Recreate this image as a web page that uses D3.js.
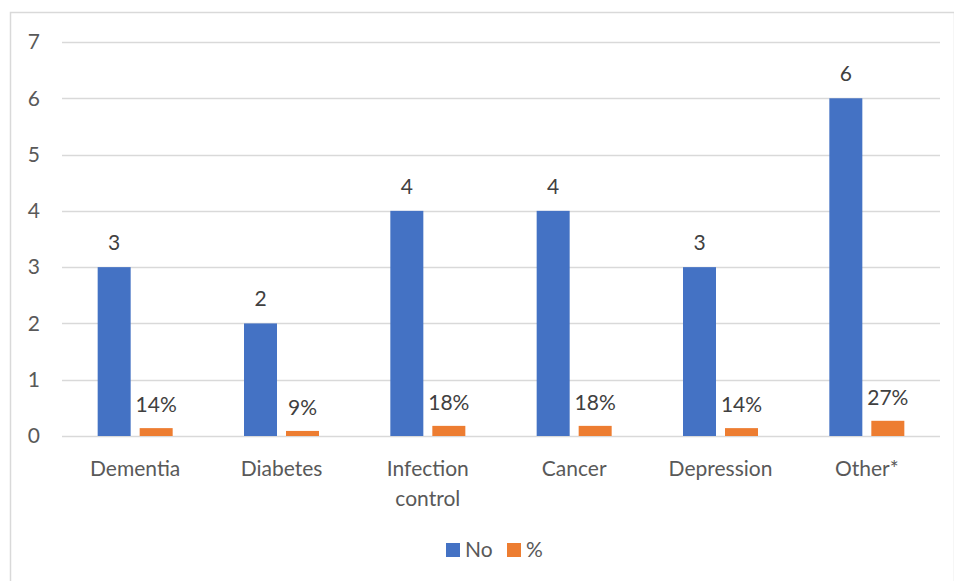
<!DOCTYPE html>
<html>
<head>
<meta charset="utf-8">
<script src="https://cdn.jsdelivr.net/npm/d3@7"></script>
<style>
  html, body { margin: 0; padding: 0; background: #fff; }
  svg { display: block; font-family: Lato, "Open Sans", "Liberation Sans", sans-serif; }
</style>
</head>
<body>
<svg id="chart" width="954" height="581"></svg>
<script>
// Topics and their counts / shares
const categories = ["Dementia", "Diabetes", "Infection control", "Cancer", "Depression", "Other*"];
const countValues = [3, 2, 4, 4, 3, 6];
const shareValues = [0.14, 0.09, 0.18, 0.18, 0.14, 0.27];
const seriesNames = ["No", "%"];
const yTicks = [0, 1, 2, 3, 4, 5, 6, 7];

const colors = { No: "#4472c4", pct: "#ed7d31" };
const textColor = "#595959";
const labelColor = "#404040";
const gridColor = "#d9d9d9";
const fontSize = 21;

const svg = d3.select("#chart");
const W = 954, H = 581;

// Chart frame
svg.append("rect")
  .attr("x", 10.5).attr("y", 12.5)
  .attr("width", W - 10).attr("height", H)
  .attr("fill", "#fff").attr("stroke", gridColor).attr("stroke-width", 1.5);

const plot = { left: 62, right: 940, top: 42, bottom: 436 };

const x = d3.scaleBand()
  .domain(categories)
  .range([plot.left, plot.right]);

const y = d3.scaleLinear()
  .domain([0, 7])
  .range([plot.bottom, plot.top]);

// Gridlines
svg.append("g")
  .selectAll("line")
  .data(yTicks)
  .join("line")
  .attr("x1", plot.left).attr("x2", plot.right)
  .attr("y1", d => Math.round(y(d)) + 0.5).attr("y2", d => Math.round(y(d)) + 0.5)
  .attr("stroke", gridColor).attr("stroke-width", 1.5);

// Y axis labels
const yAxis = d3.axisLeft(y).tickValues(yTicks).tickFormat(d3.format("d")).tickSize(0).tickPadding(0);
const yg = svg.append("g").attr("transform", `translate(${plot.left - 22},0)`).call(yAxis);
yg.select(".domain").remove();
yg.selectAll("text")
  .attr("fill", textColor).attr("font-size", fontSize)
  .attr("font-family", "Lato, 'Open Sans', sans-serif");

// Bar geometry inside each band
const barW = 33, barGap = 9;
const groupW = barW * 2 + barGap;
const offset = (x.bandwidth() - groupW) / 2;

const rows = categories.map((c, i) => ({ cat: c, n: countValues[i], p: shareValues[i] }));

const g = svg.append("g");

// Count bars
g.selectAll("rect.no")
  .data(rows)
  .join("rect")
  .attr("class", "no")
  .attr("x", d => x(d.cat) + offset)
  .attr("y", d => y(d.n))
  .attr("width", barW)
  .attr("height", d => y(0) - y(d.n))
  .attr("fill", colors.No);

// Share bars
g.selectAll("rect.pct")
  .data(rows)
  .join("rect")
  .attr("class", "pct")
  .attr("x", d => x(d.cat) + offset + barW + barGap)
  .attr("y", d => y(d.p))
  .attr("width", barW)
  .attr("height", d => y(0) - y(d.p))
  .attr("fill", colors.pct);

// Value labels
g.selectAll("text.nolab")
  .data(rows)
  .join("text")
  .attr("class", "nolab")
  .attr("x", d => x(d.cat) + offset + barW / 2)
  .attr("y", d => y(d.n) - 17)
  .attr("text-anchor", "middle")
  .attr("fill", labelColor).attr("font-size", fontSize)
  .text(d => d.n);

g.selectAll("text.pctlab")
  .data(rows)
  .join("text")
  .attr("class", "pctlab")
  .attr("x", d => x(d.cat) + offset + barW + barGap + barW / 2)
  .attr("y", d => y(d.p) - 16)
  .attr("text-anchor", "middle")
  .attr("fill", labelColor).attr("font-size", fontSize)
  .text(d => Math.round(d.p * 100) + "%");

// Category labels (wrapped to two lines where needed)
const catLines = { "Infection control": ["Infection", "control"] };
const xl = svg.append("g");
categories.forEach(c => {
  const lines = catLines[c] || [c];
  const t = xl.append("text")
    .attr("x", x(c) + x.bandwidth() / 2)
    .attr("y", 476)
    .attr("text-anchor", "middle")
    .attr("fill", textColor).attr("font-size", fontSize);
  lines.forEach((ln, i) => {
    t.append("tspan")
      .attr("x", x(c) + x.bandwidth() / 2)
      .attr("dy", i === 0 ? 0 : 30)
      .text(ln);
  });
});

// Legend
const legend = svg.append("g");
const legendItems = [
  { name: seriesNames[0], color: colors.No, x: 446 },
  { name: seriesNames[1], color: colors.pct, x: 507 }
];
legendItems.forEach(it => {
  legend.append("rect")
    .attr("x", it.x).attr("y", 543)
    .attr("width", 14).attr("height", 14)
    .attr("fill", it.color);
  legend.append("text")
    .attr("x", it.x + 19).attr("y", 557)
    .attr("fill", textColor).attr("font-size", fontSize)
    .text(it.name);
});
</script>
</body>
</html>
